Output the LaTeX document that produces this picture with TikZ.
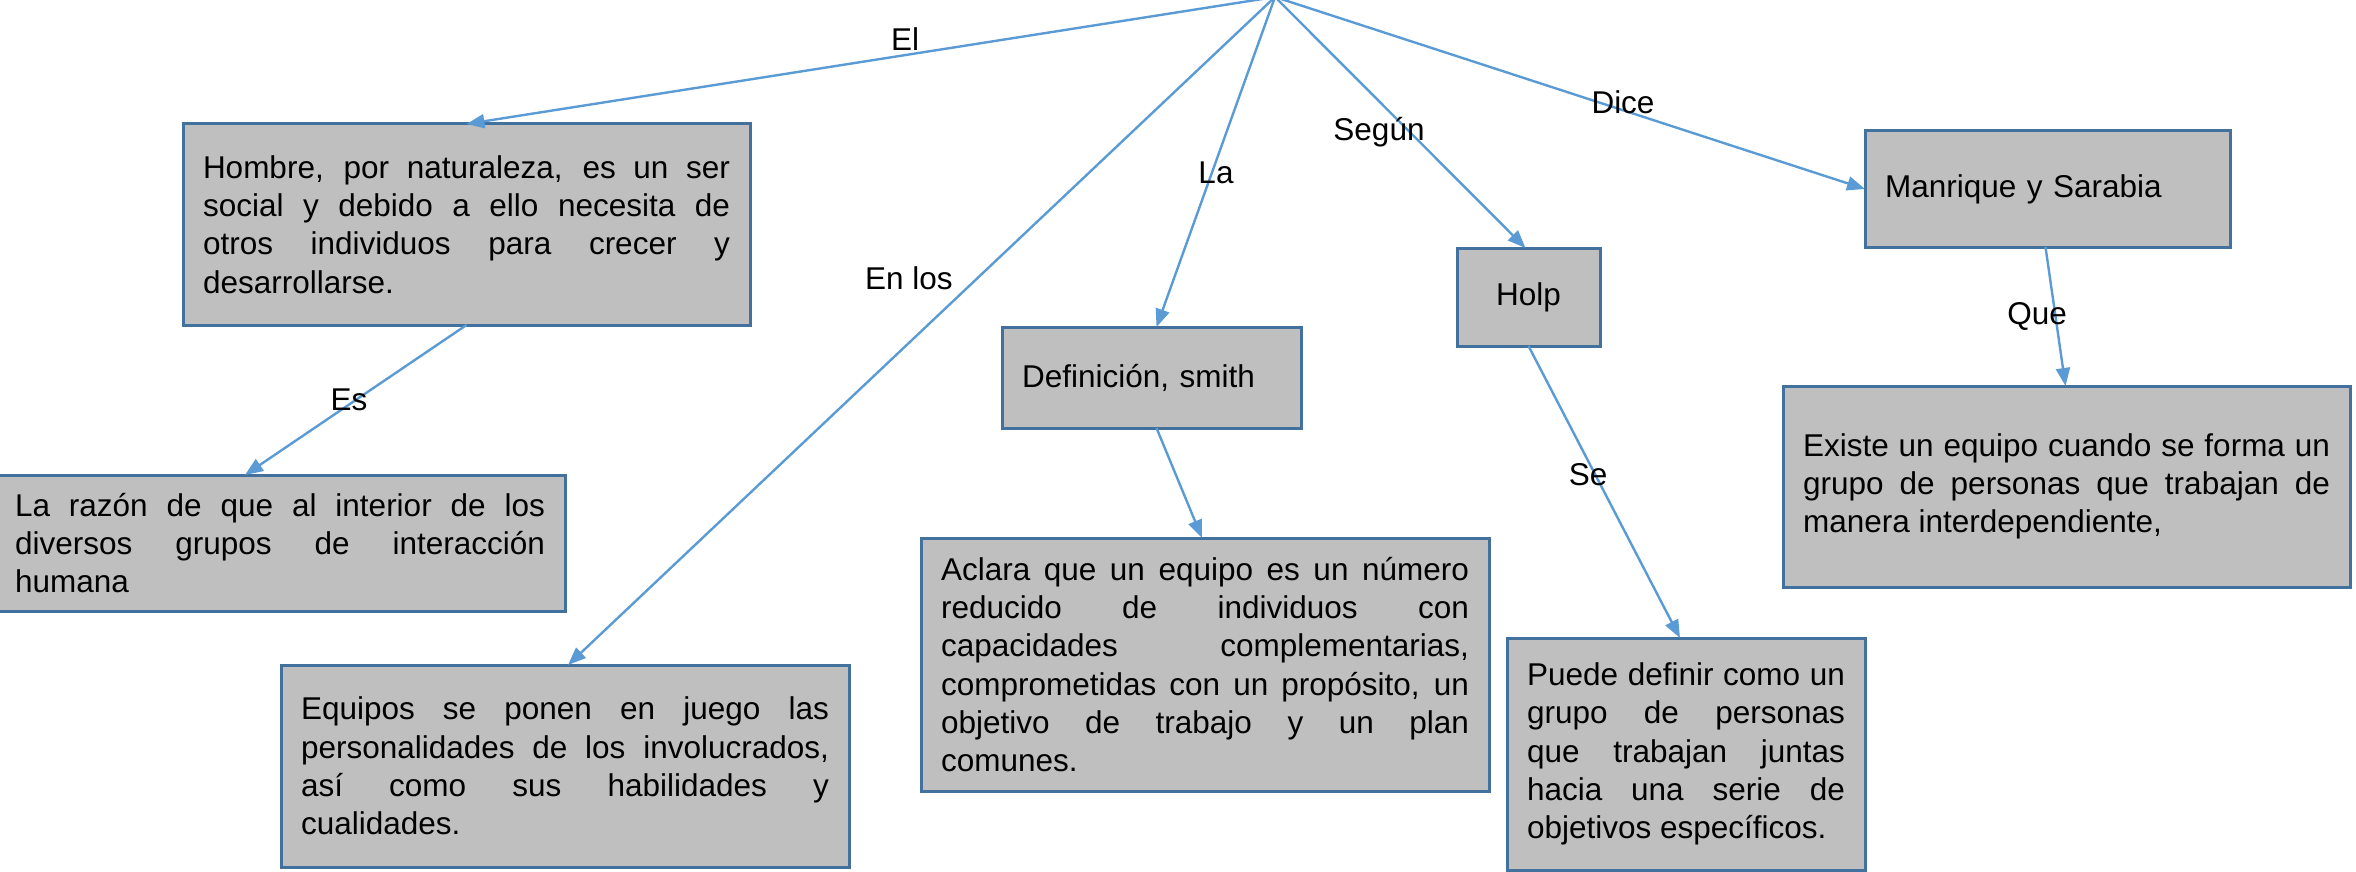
\documentclass[tikz,border=0pt]{standalone}
\usepackage{fontspec}
\setmainfont{Liberation Sans}
\usetikzlibrary{arrows.meta}
\definecolor{boxfill}{RGB}{191,191,191}
\definecolor{boxline}{RGB}{65,113,156}
\definecolor{arrowblue}{RGB}{91,155,213}
\newcommand{\bodyfont}{\fontsize{15.75}{19.15}\selectfont}
\begin{document}
\begin{tikzpicture}[x=0.5pt,y=-0.5pt,
  box/.style={draw=boxline, line width=1.5pt, fill=boxfill, inner sep=0pt, outer sep=0pt, font=\bodyfont},
  conn/.style={draw=arrowblue, line width=1.2pt, -{Triangle[length=9pt,width=7pt]}},
  lbl/.style={font=\bodyfont, inner sep=0pt}
]
\useasboundingbox (0,0) rectangle (2356,872);
\coordinate (apex) at (1275,-3);

% boxes (centre, width, height in px)
\node[box, minimum width=283.5pt, minimum height=100.5pt, text width=263.5pt, align=justify] (hombre) at (466.5,224.5)
 {Hombre, por naturaleza, es un ser\linebreak social y debido a ello necesita de\linebreak otros individuos para crecer y\linebreak desarrollarse.};
\node[box, minimum width=285pt, minimum height=68pt, text width=265pt, align=justify] (razon) at (280,543)
 {La razón de que al interior de los\linebreak diversos grupos de interacción\linebreak humana};
\node[box, minimum width=284pt, minimum height=101pt, text width=264pt, align=justify] (equipos) at (565,766)
 {Equipos se ponen en juego las\linebreak personalidades de los involucrados,\linebreak así como sus habilidades y\linebreak cualidades.};
\node[box, minimum width=149.5pt, minimum height=50.5pt, text width=129.5pt, align=left] (defin) at (1151.5,377.5)
 {Definición, smith};
\node[box, minimum width=284pt, minimum height=126.5pt, text width=264pt, align=justify] (aclara) at (1205,664.5)
 {Aclara que un equipo es un número\linebreak reducido de individuos con\linebreak capacidades complementarias,\linebreak comprometidas con un propósito, un\linebreak objetivo de trabajo y un plan\linebreak comunes.};
\node[box, minimum width=71.5pt, minimum height=49pt, align=center] (holp) at (1528.5,297)
 {Holp};
\node[box, minimum width=179pt, minimum height=116pt, text width=159pt, align=justify] (puede) at (1686,754)
 {Puede definir como un\linebreak grupo de personas\linebreak que trabajan juntas\linebreak hacia una serie de\linebreak objetivos específicos.};
\node[box, minimum width=182.5pt, minimum height=58pt, text width=162.5pt, align=left] (manr) at (2047.5,189)
 {Manrique y Sarabia};
\node[box, minimum width=283.5pt, minimum height=100.5pt, text width=263.5pt, align=justify] (existe) at (2066.5,486.5)
 {Existe un equipo cuando se forma un\linebreak grupo de personas que trabajan de\linebreak manera interdependiente,};

% connectors
\draw[conn] (apex) -- (hombre.north);
\draw[conn] (apex) -- ([xshift=1.5pt]equipos.north);
\draw[conn] (apex) -- ([xshift=2.5pt]defin.north);
\draw[conn] (apex) -- ([xshift=-1.5pt]holp.north);
\draw[conn] (apex) -- (manr.west);
\draw[conn] (hombre.south) -- ([xshift=-17.5pt]razon.north);
\draw[conn] ([xshift=2.5pt]defin.south) -- ([xshift=-1.5pt]aclara.north);
\draw[conn] (holp.south) -- ([xshift=-3pt]puede.north);
\draw[conn] ([xshift=-1pt]manr.south) -- ([xshift=-0.5pt]existe.north);

% labels
\node[lbl] (lEl) at (905,39) {El};
\node[lbl] (lEnlos) at (909,278) {En los};
\node[lbl] (lLa) at (1216,173) {La};
\node[lbl] (lSegun) at (1379,132) {Según};
\node[lbl] (lDice) at (1623,102) {Dice};
\node[lbl] (lEs) at (349,400) {Es};
\node[lbl] (lSe) at (1588,475) {Se};
\node[lbl] (lQue) at (2037,316) {Que};
\end{tikzpicture}
\end{document}
